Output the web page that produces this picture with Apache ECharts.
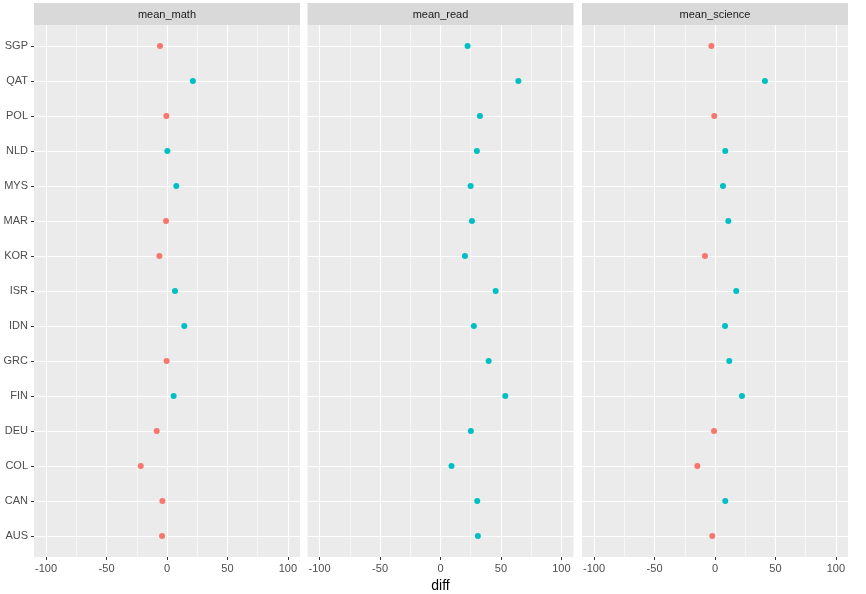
<!DOCTYPE html>
<html>
<head>
<meta charset="utf-8">
<script src="https://cdn.jsdelivr.net/npm/echarts@6/dist/echarts.min.js"></script>
<style>html,body{margin:0;padding:0;background:#fff}#c{width:866px;height:594px}</style>
</head>
<body>
<div id="c"></div>
<script>
// countries, bottom (index 0) to top
const countries = ['AUS','CAN','COL','DEU','FIN','GRC','IDN','ISR','KOR','MAR','MYS','NLD','POL','QAT','SGP'];
const panels = ['mean_math','mean_read','mean_science'];
const mathDiff    = [-4.1, -3.8, -21.7, -8.5, 5.5, -0.3, 14.3, 6.6, -6.3, -0.8, 7.7, 0.3, -0.5, 21.4, -5.8];
const readDiff    = [30.9, 30.4, 9.1, 25.1, 53.6, 39.8, 27.6, 45.6, 20.2, 26.0, 24.9, 30.1, 32.6, 64.4, 22.4];
const scienceDiff = [-2.2, 8.5, -14.6, -0.8, 22.3, 11.8, 8.3, 17.6, -8.3, 11.0, 6.6, 8.5, -0.6, 41.3, -3.0];
const xTicks = [-100, -50, 0, 50, 100];
const xMinor = [-75, -25, 25, 75];

const values = [mathDiff, readDiff, scienceDiff];
const RED = '#F8766D', TEAL = '#00BFC4';
const font = 'Liberation Sans, Arial, Helvetica, sans-serif';
const lefts = [34, 307.5, 582];
const W = 266, TOP = 25, H = 532;
const yIdx = countries.map((c, i) => i);

const grid = [], xAxis = [], yAxis = [], series = [], graphic = [];
panels.forEach((p, i) => {
  grid.push({left: lefts[i], top: TOP, width: W, height: H, show: true,
    backgroundColor: '#EBEBEB', borderWidth: 0, containLabel: false, outerBoundsMode: 'none'});
  // minor grid lines
  xAxis.push({type: 'value', gridIndex: i, position: 'bottom', min: -110, max: 110,
    axisLine: {show: false, onZero: false}, axisLabel: {show: false},
    axisTick: {show: false, customValues: xMinor},
    splitLine: {show: true, lineStyle: {color: '#FFFFFF', width: 0.55}}});
  // major
  xAxis.push({type: 'value', gridIndex: i, position: 'bottom', min: -110, max: 110,
    name: i === 1 ? 'diff' : '', nameLocation: 'middle', nameGap: 20,
    nameTextStyle: {fontFamily: font, fontSize: 14, color: '#000'},
    axisLine: {show: false, onZero: false},
    axisTick: {show: true, length: 3, customValues: xTicks, lineStyle: {color: '#333333', width: 1}},
    axisLabel: {show: true, customValues: xTicks, margin: 6, color: '#4D4D4D', fontSize: 11, fontFamily: font},
    splitLine: {show: true, lineStyle: {color: '#FFFFFF', width: 1.1}}});
  yAxis.push({type: 'value', gridIndex: i, position: 'left', min: -0.6, max: 14.6,
    axisLine: {show: false, onZero: false},
    axisTick: {show: i === 0, length: 3, customValues: yIdx, lineStyle: {color: '#333333', width: 1}},
    axisLabel: {show: i === 0, customValues: yIdx, margin: 6, color: '#4D4D4D', fontSize: 11, fontFamily: font,
      formatter: v => countries[Math.round(v)]},
    splitLine: {show: true, lineStyle: {color: '#FFFFFF', width: 1.1}}});
  series.push({type: 'scatter', xAxisIndex: 2 * i + 1, yAxisIndex: i,
    symbol: 'circle', symbolSize: 6, z: 5,
    data: values[i].map((v, k) => [v, k]),
    itemStyle: {color: params => params.value[0] < 0 ? RED : TEAL, opacity: 1},
    emphasis: {disabled: true}, animation: false});
  graphic.push({type: 'rect', left: lefts[i], top: 3, shape: {width: W, height: 22},
    style: {fill: '#D9D9D9'}, silent: true});
  graphic.push({type: 'text', x: lefts[i] + W / 2, y: 14.5,
    style: {text: p, fill: '#1A1A1A', font: '11px ' + font, align: 'center', verticalAlign: 'middle'}, silent: true});
});

const chart = echarts.init(document.getElementById('c'), null, {renderer: 'canvas'});
chart.setOption({animation: false, backgroundColor: '#FFFFFF', grid, xAxis, yAxis, series, graphic,
  tooltip: {show: false}});
</script>
</body>
</html>
